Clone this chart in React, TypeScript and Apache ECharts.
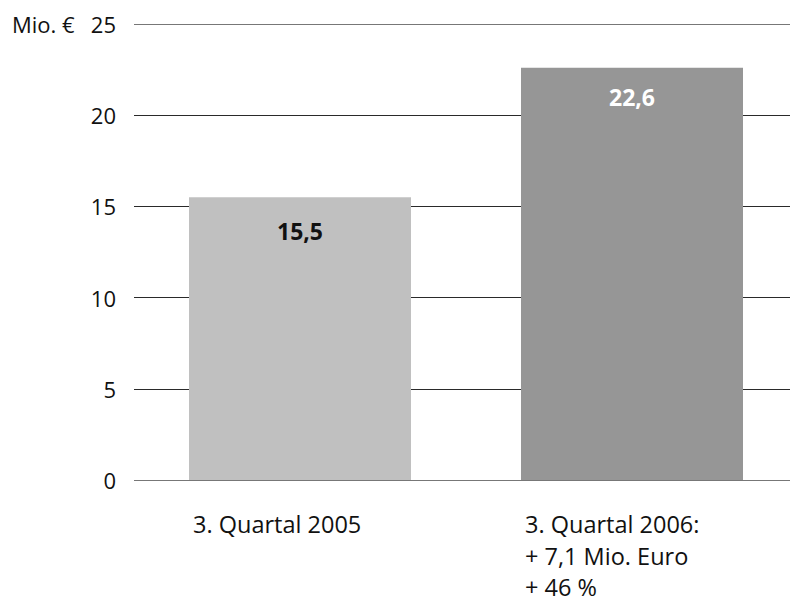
import React, { useEffect, useRef } from "react";
import * as echarts from "echarts";

// Quarterly figures in Mio. €
const categories = ["3. Quartal 2005", "3. Quartal 2006"];
const categoryLines = [
  ["3. Quartal 2005"],
  ["3. Quartal 2006:", "+ 7,1 Mio. Euro", "+ 46 %"],
];
const revenue = [15.5, 22.6];
const yTicks = [0, 5, 10, 15, 20, 25];
const unitLabel = "Mio. €";

// styling
const barColors = ["#c0c0c0", "#969696"];
const valueLabelColors = ["#111111", "#ffffff"];
const valueLabelDistance = [22, 18];
const FONT = "'Open Sans', 'Noto Sans', sans-serif";
const BAR_WIDTH = 222;
const LINE_STEP = 31.5;

const fmt = (v: number) => v.toFixed(1).replace(".", ",");

export default function App() {
  const ref = useRef<HTMLDivElement>(null);

  useEffect(() => {
    if (!ref.current) return;
    const chart = echarts.init(ref.current, undefined, { renderer: "svg" });

    const option: any = {
      animation: false,
      backgroundColor: "#ffffff",
      textStyle: { fontFamily: FONT },
      // the plot runs a little past the visible right edge, so the grid lines bleed off
      grid: { left: 134, right: 0, top: 24, bottom: 125, containLabel: false },
      xAxis: {
        type: "category",
        data: categories,
        axisLine: { show: false },
        axisTick: { show: false },
        axisLabel: { show: false },
        splitLine: { show: false },
      },
      yAxis: {
        type: "value",
        min: yTicks[0],
        max: yTicks[yTicks.length - 1],
        interval: 5,
        axisLine: { show: false },
        axisTick: { show: false },
        axisLabel: {
          margin: 18,
          fontSize: 22,
          color: "#111111",
          fontFamily: FONT,
        },
        splitLine: {
          show: true,
          lineStyle: {
            width: 1,
            color: ["#777777", "#2a2a2a", "#2a2a2a", "#2a2a2a", "#2a2a2a", "#777777"],
          },
        },
      },
      series: [
        {
          type: "bar",
          barWidth: BAR_WIDTH,
          data: revenue.map((v, i) => ({
            value: v,
            itemStyle: { color: barColors[i] },
            label: { color: valueLabelColors[i], distance: valueLabelDistance[i] },
          })),
          label: {
            show: true,
            position: "insideTop",
            fontSize: 23,
            fontWeight: "bold",
            fontFamily: FONT,
            formatter: (p: any) => fmt(p.value),
          },
        },
      ],
    };

    chart.setOption(option);

    const [, topY] = chart.convertToPixel({ gridIndex: 0 }, [0, yTicks[yTicks.length - 1]]) as number[];
    const [, zeroY] = chart.convertToPixel({ gridIndex: 0 }, [0, 0]) as number[];

    const graphics: any[] = [
      {
        type: "text",
        x: 12,
        y: topY,
        style: {
          text: unitLabel,
          fontSize: 22,
          fontFamily: FONT,
          fill: "#111111",
          align: "left",
          verticalAlign: "middle",
        },
      },
    ];

    categories.forEach((c, i) => {
      const cx = chart.convertToPixel({ xAxisIndex: 0 }, c) as number;
      categoryLines[i].forEach((line, j) => {
        graphics.push({
          type: "text",
          x: cx - BAR_WIDTH / 2 + 4,
          y: zeroY + 44 + j * LINE_STEP,
          style: {
            text: line,
            fontSize: 23.5,
            lineHeight: 20,
            fontFamily: FONT,
            fill: "#111111",
            align: "left",
            verticalAlign: "middle",
          },
        });
      });
    });

    chart.setOption({ graphic: graphics });

    return () => chart.dispose();
  }, []);

  return (
    <div
      style={{
        position: "absolute",
        left: 0,
        top: 0,
        width: 790,
        height: 605,
        overflow: "hidden",
      }}
    >
      <div ref={ref} style={{ width: 798, height: 605 }} />
    </div>
  );
}
